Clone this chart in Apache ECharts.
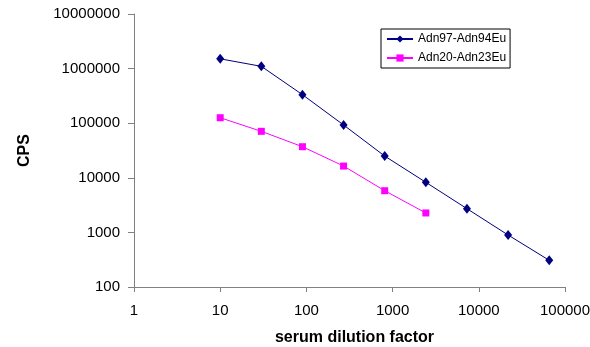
<!DOCTYPE html>
<html>
<head>
<meta charset="utf-8">
<script src="https://cdn.jsdelivr.net/npm/echarts@6/dist/echarts.min.js"></script>
<style>
html,body{margin:0;padding:0;background:#fff;}
#chart{width:590px;height:347px;}
</style>
</head>
<body>
<div id="chart"></div>
<script>
var dilutions1 = [10, 30, 90, 270, 810, 2430, 7290, 21870, 65610];
var cps1 = [1510000, 1100000, 333000, 92700, 25000, 8270, 2720, 896, 308];
var dilutions2 = [10, 30, 90, 270, 810, 2430];
var cps2 = [126000, 71000, 37100, 16400, 5800, 2270];
var seriesNames = ['Adn97-Adn94Eu', 'Adn20-Adn23Eu'];
var xAxisTitle = 'serum dilution factor';
var yAxisTitle = 'CPS';

function pairs(xs, ys) { return xs.map(function (x, i) { return [x, ys[i]]; }); }

var font = 'Liberation Sans, Arial, sans-serif';
var chart = echarts.init(document.getElementById('chart'));
chart.setOption({
  animation: false,
  backgroundColor: '#fff',
  grid: { left: 134, right: 25, top: 14, bottom: 60, containLabel: false, outerBoundsMode: 'none' },
  legend: {
    orient: 'vertical',
    left: 381, top: 29,
    padding: [3, 4, 3, 5],
    itemGap: 5,
    itemWidth: 26,
    itemHeight: 9,
    borderColor: '#000', borderWidth: 1,
    textStyle: { fontFamily: font, fontSize: 12, color: '#000', lineHeight: 14 },
    data: seriesNames
  },
  xAxis: {
    type: 'log', logBase: 10, min: 1, max: 100000,
    name: xAxisTitle, nameLocation: 'middle', nameGap: 43,
    nameTextStyle: { fontFamily: font, fontSize: 16, fontWeight: 'bold', color: '#000', padding: [0, 0, 0, 10] },
    axisLine: { show: true, lineStyle: { color: '#808080', width: 1 } },
    axisTick: { show: true, length: 5, inside: false, lineStyle: { color: '#808080' } },
    minorTick: { show: false },
    splitLine: { show: false },
    axisLabel: { fontFamily: font, fontSize: 15, color: '#000', margin: 16, hideOverlap: false,
      formatter: function (v) { return String(Math.round(v)); } }
  },
  yAxis: {
    type: 'log', logBase: 10, min: 100, max: 10000000,
    name: yAxisTitle, nameLocation: 'middle', nameGap: 101, nameRotate: 90,
    nameTextStyle: { fontFamily: font, fontSize: 16, fontWeight: 'bold', color: '#000' },
    axisLine: { show: true, lineStyle: { color: '#808080', width: 1 } },
    axisTick: { show: true, length: 6, inside: false, lineStyle: { color: '#808080' } },
    splitLine: { show: false },
    axisLabel: { fontFamily: font, fontSize: 15, color: '#000', margin: 14,
      formatter: function (v) { return String(Math.round(v)); } }
  },
  series: [
    {
      name: seriesNames[0], type: 'line', data: pairs(dilutions1, cps1),
      symbol: 'diamond', symbolSize: [8, 10], showAllSymbol: true,
      lineStyle: { color: '#000080', width: 1 },
      itemStyle: { color: '#000080' }
    },
    {
      name: seriesNames[1], type: 'line', data: pairs(dilutions2, cps2),
      symbol: 'rect', symbolSize: 7, showAllSymbol: true,
      lineStyle: { color: '#FF00FF', width: 1 },
      itemStyle: { color: '#FF00FF' }
    }
  ]
});
</script>
</body>
</html>
